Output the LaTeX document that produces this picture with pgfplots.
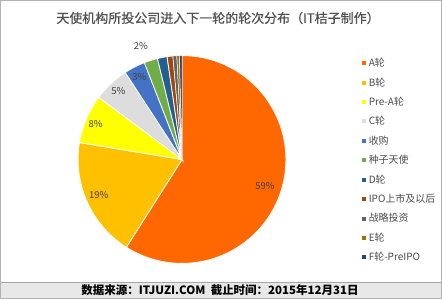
\documentclass[border=0pt]{standalone}
\usepackage{pgfplots}
\pgfplotsset{compat=1.18}
\usepackage{fontspec}
\setmainfont{Noto Sans CJK SC}
\newfontfamily\titlefont[FakeBold=0.6]{Noto Sans CJK SC}
\definecolor{cA}{RGB}{255,104,0}
\definecolor{cB}{RGB}{255,192,0}
\definecolor{cPA}{RGB}{255,255,0}
\definecolor{cC}{RGB}{221,221,221}
\definecolor{cSG}{RGB}{68,114,196}
\definecolor{cZZ}{RGB}{112,173,71}
\definecolor{cD}{RGB}{37,94,145}
\definecolor{cIPO}{RGB}{158,72,14}
\definecolor{cZL}{RGB}{99,99,99}
\definecolor{cE}{RGB}{153,115,0}
\definecolor{cF}{RGB}{38,68,120}
\definecolor{lab}{RGB}{64,64,64}
% shares (percent)
\def\vA{59}\def\vB{18.6}\def\vPA{7.6}\def\vC{5.6}\def\vSG{3.3}\def\vZZ{2.1}
\def\vD{1.5}\def\vIPO{0.9}\def\vZL{0.6}\def\vE{0.4}\def\vF{0.4}
\begin{document}
\begin{tikzpicture}[x=1pt,y=1pt]
\fill[white] (0,0) rectangle (442,299);
\fill[black!9] (0,0) rectangle (442,17);
\draw[black!35] (0,17) -- (442,17);
\draw[black!30] (0.5,0.5) rectangle (441.5,298.5);
\node[font=\fontsize{13}{15}\selectfont\titlefont, text=black!68] at (218,281) {天使机构所投公司进入下一轮的轮次分布（IT桔子制作）};
\node[font=\fontsize{11.5}{13}\selectfont\bfseries] at (220,8.5) {数据来源：ITJUZI.COM\ \ 截止时间：2015年12月31日};
\pgfmathsetmacro\tA{90}
\pgfmathsetmacro\tB{\tA-3.6*\vA}
\pgfmathsetmacro\tPA{\tB-3.6*\vB}
\pgfmathsetmacro\tC{\tPA-3.6*\vPA}
\pgfmathsetmacro\tSG{\tC-3.6*\vC}
\pgfmathsetmacro\tZZ{\tSG-3.6*\vSG}
\pgfmathsetmacro\tD{\tZZ-3.6*\vZZ}
\pgfmathsetmacro\tIPO{\tD-3.6*\vD}
\pgfmathsetmacro\tZL{\tIPO-3.6*\vIPO}
\pgfmathsetmacro\tE{\tZL-3.6*\vZL}
\pgfmathsetmacro\tF{\tE-3.6*\vE}
\pgfmathsetmacro\tEnd{\tF-3.6*\vF}
\begin{axis}[hide axis, x=104pt, y=104pt, anchor=origin, at={(175,134)},
  xmin=-1.1, xmax=1.1, ymin=-1.1, ymax=1.1, clip=false,
  legend cell align=left,
  legend image code/.code={\fill[#1,draw=none] (0pt,-2pt) rectangle (4pt,2pt);},
  legend style={at={(1.274,0.955)}, anchor=north west, draw=none, fill=none,
    font=\fontsize{10}{12}\selectfont, text=black!70, row sep=8.3pt, column sep=2pt,
    nodes={inner sep=0.6pt}},
  every axis plot/.append style={draw=white, line width=0.8pt, samples=90}]
\addplot[fill=cA, domain=\tB:\tA] ({cos(x)},{sin(x)}) -- (axis cs:0,0) -- cycle;
\addlegendentry{A轮}
\addplot[fill=cB, domain=\tPA:\tB] ({cos(x)},{sin(x)}) -- (axis cs:0,0) -- cycle;
\addlegendentry{B轮}
\addplot[fill=cPA, domain=\tC:\tPA] ({cos(x)},{sin(x)}) -- (axis cs:0,0) -- cycle;
\addlegendentry{Pre-A轮}
\addplot[fill=cC, domain=\tSG:\tC] ({cos(x)},{sin(x)}) -- (axis cs:0,0) -- cycle;
\addlegendentry{C轮}
\addplot[fill=cSG, domain=\tZZ:\tSG] ({cos(x)},{sin(x)}) -- (axis cs:0,0) -- cycle;
\addlegendentry{收购}
\addplot[fill=cZZ, domain=\tD:\tZZ] ({cos(x)},{sin(x)}) -- (axis cs:0,0) -- cycle;
\addlegendentry{种子天使}
\addplot[fill=cD, domain=\tIPO:\tD] ({cos(x)},{sin(x)}) -- (axis cs:0,0) -- cycle;
\addlegendentry{D轮}
\addplot[fill=cIPO, domain=\tZL:\tIPO] ({cos(x)},{sin(x)}) -- (axis cs:0,0) -- cycle;
\addlegendentry{IPO上市及以后}
\addplot[fill=cZL, domain=\tE:\tZL, line width=0.5pt] ({cos(x)},{sin(x)}) -- (axis cs:0,0) -- cycle;
\addlegendentry{战略投资}
\addplot[fill=cE, domain=\tF:\tE, line width=0.5pt] ({cos(x)},{sin(x)}) -- (axis cs:0,0) -- cycle;
\addlegendentry{E轮}
\addplot[fill=cF, domain=\tEnd:\tF, line width=0.5pt] ({cos(x)},{sin(x)}) -- (axis cs:0,0) -- cycle;
\addlegendentry{F轮-PreIPO}
\begin{scope}[every node/.style={font=\fontsize{9.5}{11}\selectfont, text=lab}]
\node at (axis cs:{0.84*cos(-18)},{0.84*sin(-18)}) {59\%};
\node at (axis cs:{0.87*cos(203)},{0.87*sin(203)}) {19\%};
\node at (axis cs:{0.9*cos(157.5)},{0.9*sin(157.5)}) {8\%};
\node at (axis cs:{0.9*cos(133)},{0.9*sin(133)}) {5\%};
\node at (axis cs:{0.89*cos(117.5)},{0.89*sin(117.5)}) {3\%};
\node at (axis cs:{1.16*cos(110)},{1.16*sin(110)}) {2\%};
\end{scope}
\end{axis}
\end{tikzpicture}
\end{document}
